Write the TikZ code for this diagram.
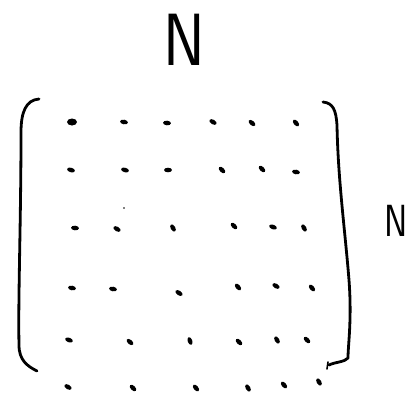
\documentclass[tikz,border=0pt]{standalone}
\usetikzlibrary{shapes.geometric}
\begin{document}
\begin{tikzpicture}[x=1pt,y=-1pt,
  dotmark/.style={ellipse,fill=black,inner sep=0pt,minimum width=8pt,minimum height=4.6pt},
  bigdot/.style={ellipse,fill=black,inner sep=0pt,minimum width=10pt,minimum height=7pt},
  bracketline/.style={line width=2.8pt,line cap=round,line join=round},
  lbl/.style={inner sep=0pt,font=\sffamily}]
\useasboundingbox (0,0) rectangle (408,392);
\clip (0,0) rectangle (408,392);
% labels
\node[lbl,font=\sffamily\fontsize{74}{74}\selectfont,xscale=0.85] (topN) at (184,40) {N};
\node[lbl,font=\sffamily\fontsize{45}{45}\selectfont,xscale=0.78] (rightN) at (396,221) {N};
% left bracket
\draw[bracketline] (39,99) .. controls (26,100) and (21,112) .. (21,132)
  .. controls (21,220) and (18,300) .. (19,345) .. controls (19,360) and (27,366) .. (37,371);
% right bracket
\draw[bracketline] (323,102) .. controls (333,103) and (336,110) .. (337,125)
  .. controls (338,180) and (345,230) .. (349,280) .. controls (352,320) and (348,345) .. (348,358)
  .. controls (345,362) and (335,362) .. (329,365);
\draw[line width=1.6pt,line cap=round] (328,362) -- (327,369);
% dots row 1
\node[bigdot] (d11) at (72,122) {};
\node[dotmark,rotate=-10] (d12) at (124,122) {};
\node[dotmark,rotate=-5] (d13) at (167,123) {};
\node[dotmark,rotate=-30] (d14) at (213,122) {};
\node[dotmark,rotate=-40] (d15) at (252,123) {};
\node[dotmark,rotate=-50] (d16) at (296,123) {};
% row 2
\node[dotmark,rotate=-15] (d21) at (71,170) {};
\node[dotmark,rotate=-15] (d22) at (125,170) {};
\node[dotmark] (d23) at (168,170) {};
\node[dotmark,rotate=-45] (d24) at (222,170) {};
\node[dotmark,rotate=-45] (d25) at (262,169) {};
\node[dotmark,rotate=-10] (d26) at (296,172) {};
% row 3
\node[dotmark,rotate=-5] (d31) at (75,228) {};
\node[dotmark,rotate=-30] (d32) at (117,229) {};
\node[dotmark,rotate=-60] (d33) at (173,228) {};
\node[dotmark,rotate=-45] (d34) at (234,226) {};
\node[dotmark,rotate=-20] (d35) at (273,227) {};
\node[dotmark,rotate=-60] (d36) at (304,228) {};
\fill (124,208) circle (0.9pt);
% row 4
\node[dotmark,rotate=-10] (d41) at (72,288) {};
\node[dotmark,rotate=-10] (d42) at (113,289) {};
\node[dotmark,rotate=-35] (d43) at (179,293) {};
\node[dotmark,rotate=-50] (d44) at (238,287) {};
\node[dotmark,rotate=-30] (d45) at (276,286) {};
\node[dotmark,rotate=-50] (d46) at (312,288) {};
% row 5
\node[dotmark,rotate=-20] (d51) at (69,340) {};
\node[dotmark,rotate=-40] (d52) at (130,342) {};
\node[dotmark,rotate=-70] (d53) at (190,341) {};
\node[dotmark,rotate=-45] (d54) at (239,342) {};
\node[dotmark,rotate=-60] (d55) at (277,340) {};
\node[dotmark,rotate=-45] (d56) at (307,340) {};
% row 6
\node[dotmark,rotate=-30] (d61) at (68,387) {};
\node[dotmark,rotate=-45] (d62) at (133,388) {};
\node[dotmark,rotate=-50] (d63) at (196,388) {};
\node[dotmark,rotate=-60] (d64) at (248,388) {};
\node[dotmark,rotate=-50] (d65) at (284,385) {};
\node[dotmark,rotate=-60] (d66) at (319,382) {};
\end{tikzpicture}
\end{document}
